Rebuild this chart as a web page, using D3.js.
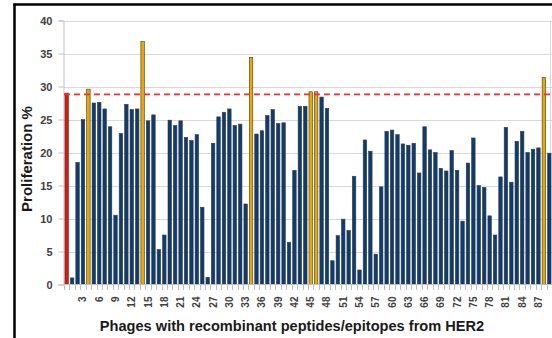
<!DOCTYPE html>
<html><head><meta charset="utf-8">
<script src="https://cdn.jsdelivr.net/npm/d3@7"></script>
<style>html,body{margin:0;padding:0;background:#fff;}svg{display:block;}</style>
</head><body>
<svg id="chart" width="552" height="338"></svg>
<script>
const phages = d3.range(0, 90);
const proliferation = [
  29, 1, 18.5, 25, 29.6, 27.5, 27.6, 26.6, 23.9, 10.5,
  22.9, 27.3, 26.5, 26.6, 36.8, 24.8, 25.7, 5.3, 7.5, 24.9,
  24.1, 24.8, 22.3, 21.8, 22.7, 11.7, 1.1, 21.4, 25.4, 26.1,
  26.6, 24.1, 24.3, 12.2, 34.4, 22.8, 23.3, 25.6, 26.5, 24.4,
  24.5, 6.4, 17.3, 27.0, 27.0, 29.2, 29.2, 28.4, 26.7, 3.6,
  7.4, 9.9, 8.2, 16.4, 2.2, 21.9, 20.2, 4.6, 14.8, 23.2,
  23.4, 22.7, 21.3, 21.1, 21.4, 16.9, 23.9, 20.4, 20.0, 17.6,
  17.2, 20.3, 17.3, 9.6, 18.4, 22.2, 15.0, 14.7, 10.4, 7.5,
  16.3, 23.8, 15.5, 21.7, 23.2, 20.0, 20.5, 20.7, 31.4, 19.9
];
const controlPhages = [0];
const highlightPhages = [4, 14, 34, 45, 46, 88];
const thresholdValue = [28.8];
const yTicks = [0, 5, 10, 15, 20, 25, 30, 35, 40];
const xTickLabels = d3.range(3, 88, 3);

const svg = d3.select("#chart");
const x = d3.scaleBand().domain(phages).range([64, 552]).paddingInner(0.36).paddingOuter(0.18);
const y = d3.scaleLinear().domain([0, 40]).range([284.5, 20.5]);

// frame
svg.append("line").attr("x1", 14.5).attr("x2", 14.5).attr("y1", 3.5).attr("y2", 338).attr("stroke", "#000").attr("stroke-width", 2.5);
svg.append("line").attr("x1", 13.5).attr("x2", 552).attr("y1", 4.5).attr("y2", 4.5).attr("stroke", "#000").attr("stroke-width", 2.5);

// gridlines
svg.append("g").selectAll("line").data(yTicks.slice(1)).join("line")
  .attr("x1", 64).attr("x2", 552).attr("y1", d => Math.round(y(d)) + 0.5).attr("y2", d => Math.round(y(d)) + 0.5)
  .attr("stroke", "#d9d9d9").attr("stroke-width", 1);
svg.append("line").attr("x1", 550.5).attr("x2", 550.5).attr("y1", y(40)).attr("y2", y(0)).attr("stroke", "#d9d9d9");

// y axis
const yAxis = svg.append("g").attr("transform", "translate(63.5,0)")
  .call(d3.axisLeft(y).tickValues(yTicks).tickSize(5).tickPadding(6));
yAxis.select(".domain").attr("stroke", "#bfbfbf");
yAxis.selectAll(".tick line").attr("stroke", "#bfbfbf");
yAxis.selectAll(".tick text").attr("font-family", "Liberation Sans, Arial, sans-serif")
  .attr("font-size", 11).attr("font-weight", "bold").attr("fill", "#404040");

// bars
const barColor = d => controlPhages.includes(d) ? "#e8120c" : (highlightPhages.includes(d) ? "#e8a800" : "#0b3d73");
svg.append("g").selectAll("rect").data(phages).join("rect")
  .attr("x", d => x(d)).attr("width", x.bandwidth())
  .attr("y", (d, i) => y(proliferation[i])).attr("height", (d, i) => y(0) - y(proliferation[i]))
  .attr("fill", barColor).attr("stroke", "#3a3a3a").attr("stroke-width", 0.6);

// x axis
const xAxis = svg.append("g").attr("transform", "translate(0,284.5)")
  .call(d3.axisBottom(x).tickValues(xTickLabels).tickSize(0).tickPadding(0));
xAxis.select(".domain").remove();
svg.append("line").attr("x1", 63.5).attr("x2", 552).attr("y1", 284.5).attr("y2", 284.5).attr("stroke", "#bfbfbf");
svg.append("g").selectAll("line").data(phages).join("line")
  .attr("x1", d => Math.round(x(d) - x.step() * x.paddingInner() / 2) + 0.5)
  .attr("x2", d => Math.round(x(d) - x.step() * x.paddingInner() / 2) + 0.5)
  .attr("y1", 284.5).attr("y2", 290).attr("stroke", "#bfbfbf");
xAxis.selectAll(".tick text")
  .attr("font-family", "Liberation Sans, Arial, sans-serif").attr("font-size", 10).attr("font-weight", "bold")
  .attr("fill", "#404040")
  .attr("text-anchor", "end").attr("transform", "translate(0,12) rotate(-90)")
  .attr("x", 0).attr("y", 0).attr("dy", "0.35em");

// threshold line
svg.append("g").selectAll("line").data(thresholdValue).join("line")
  .attr("x1", 64).attr("x2", 552).attr("y1", d => y(d)).attr("y2", d => y(d))
  .attr("stroke", "#ff2a2a").attr("stroke-width", 1.8).attr("stroke-dasharray", "6,4");

// titles
svg.append("text").attr("transform", "translate(32,159) rotate(-90)").attr("text-anchor", "middle")
  .attr("font-family", "Liberation Sans, Arial, sans-serif").attr("font-size", 15).attr("font-weight", "bold")
  .attr("fill", "#1a1a1a").text("Proliferation %");
svg.append("text").attr("x", 292).attr("y", 331).attr("text-anchor", "middle")
  .attr("font-family", "Liberation Sans, Arial, sans-serif").attr("font-size", 14.6).attr("font-weight", "bold")
  .attr("fill", "#1a1a1a").text("Phages with recombinant peptides/epitopes from HER2");
</script>
</body></html>
